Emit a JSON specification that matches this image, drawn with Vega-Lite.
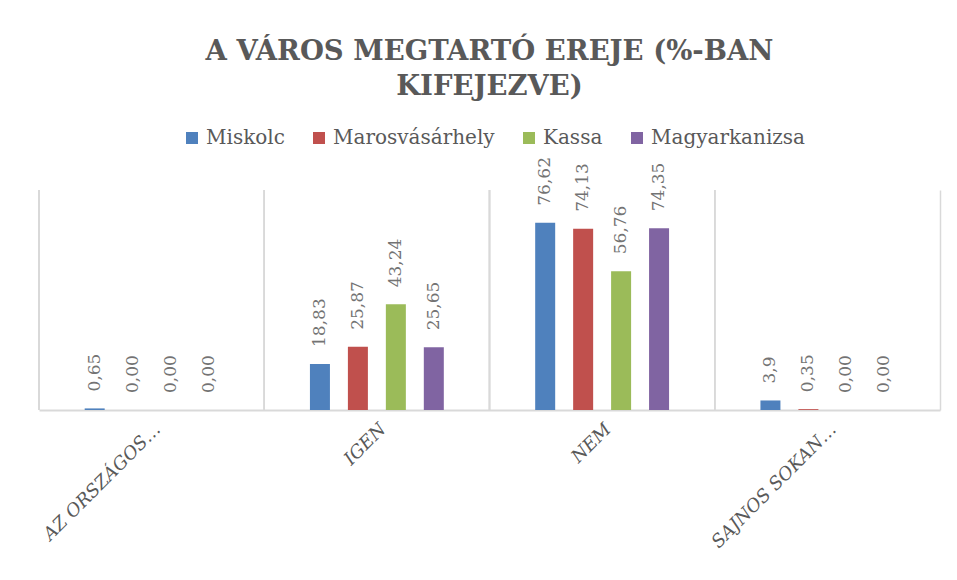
{
  "$schema": "https://vega.github.io/schema/vega-lite/v6.json",
  "width": 901,
  "height": 220,
  "autosize": {"type": "none"},
  "padding": {"left": 39, "top": 190, "right": 17, "bottom": 170},
  "background": "white",
  "config": {"view": {"stroke": null}, "font": "DejaVu Serif"},
  "title": {
    "text": ["A VÁROS MEGTARTÓ EREJE (%-BAN", "KIFEJEZVE)"],
    "anchor": "middle",
    "frame": "group",
    "font": "DejaVu Serif",
    "fontSize": 27.5,
    "fontWeight": "bold",
    "color": "#595959",
    "lineHeight": 35,
    "offset": 28
  },
  "data": {
    "values": [
      {"cat": "AZ ORSZÁGOS…", "city": "Miskolc", "value": 0.65, "label": "0,65"},
      {"cat": "AZ ORSZÁGOS…", "city": "Marosvásárhely", "value": 0, "label": "0,00"},
      {"cat": "AZ ORSZÁGOS…", "city": "Kassa", "value": 0, "label": "0,00"},
      {"cat": "AZ ORSZÁGOS…", "city": "Magyarkanizsa", "value": 0, "label": "0,00"},
      {"cat": "IGEN", "city": "Miskolc", "value": 18.83, "label": "18,83"},
      {"cat": "IGEN", "city": "Marosvásárhely", "value": 25.87, "label": "25,87"},
      {"cat": "IGEN", "city": "Kassa", "value": 43.24, "label": "43,24"},
      {"cat": "IGEN", "city": "Magyarkanizsa", "value": 25.65, "label": "25,65"},
      {"cat": "NEM", "city": "Miskolc", "value": 76.62, "label": "76,62"},
      {"cat": "NEM", "city": "Marosvásárhely", "value": 74.13, "label": "74,13"},
      {"cat": "NEM", "city": "Kassa", "value": 56.76, "label": "56,76"},
      {"cat": "NEM", "city": "Magyarkanizsa", "value": 74.35, "label": "74,35"},
      {"cat": "SAJNOS SOKAN…", "city": "Miskolc", "value": 3.9, "label": "3,9"},
      {"cat": "SAJNOS SOKAN…", "city": "Marosvásárhely", "value": 0.35, "label": "0,35"},
      {"cat": "SAJNOS SOKAN…", "city": "Kassa", "value": 0, "label": "0,00"},
      {"cat": "SAJNOS SOKAN…", "city": "Magyarkanizsa", "value": 0, "label": "0,00"}
    ]
  },
  "layer": [
    {
      "mark": {"type": "rule", "color": "#d9d9d9", "strokeWidth": 1.5},
      "encoding": {
        "x": {"field": "cat", "type": "nominal", "bandPosition": 0,
              "scale": {"domain": ["AZ ORSZÁGOS…", "IGEN", "NEM", "SAJNOS SOKAN…"], "paddingInner": 0, "paddingOuter": 0},
              "axis": {"title": null, "labelAngle": -45, "labelFont": "DejaVu Serif", "labelFontStyle": "italic",
                       "labelFontSize": 18, "labelColor": "#595959", "ticks": false, "grid": false,
                       "domainColor": "#d9d9d9", "domainWidth": 2, "labelPadding": 10, "labelLimit": 300}}
      }
    },
    {
      "mark": {"type": "bar", "width": 20},
      "encoding": {
        "x": {"field": "cat", "type": "nominal",
              "scale": {"domain": ["AZ ORSZÁGOS…", "IGEN", "NEM", "SAJNOS SOKAN…"], "paddingInner": 0, "paddingOuter": 0},
              "axis": {"title": null, "labelAngle": -45, "labelFont": "DejaVu Serif", "labelFontStyle": "italic",
                       "labelFontSize": 18, "labelColor": "#595959", "ticks": false, "grid": false,
                       "domainColor": "#d9d9d9", "domainWidth": 2, "labelPadding": 10, "labelLimit": 300}},
        "xOffset": {"field": "city", "type": "nominal",
                    "scale": {"domain": ["Miskolc", "Marosvásárhely", "Kassa", "Magyarkanizsa"], "paddingInner": 0.066, "paddingOuter": 1.0}},
        "y": {"field": "value", "type": "quantitative", "scale": {"domain": [0, 90], "nice": false},
              "axis": {"orient": "right", "labels": false, "ticks": false, "grid": false, "title": null,
                       "domainColor": "#d9d9d9", "domainWidth": 1.5}},
        "color": {"field": "city", "type": "nominal",
                  "scale": {"domain": ["Miskolc", "Marosvásárhely", "Kassa", "Magyarkanizsa"],
                            "range": ["#4F81BD", "#C0504D", "#9BBB59", "#8064A2"]},
                  "legend": {"title": null, "orient": "none", "legendX": 143, "legendY": -62, "direction": "horizontal",
                             "symbolType": "square", "symbolSize": 144, "symbolStrokeWidth": 0,
                             "labelFont": "DejaVu Serif", "labelFontSize": 20, "labelColor": "#595959",
                             "labelOffset": 4, "columnPadding": 24, "labelLimit": 300}}
      }
    },
    {
      "mark": {"type": "text", "angle": 270, "align": "left", "baseline": "middle", "dx": 17,
               "font": "DejaVu Serif", "fontSize": 17, "color": "#737373"},
      "encoding": {
        "x": {"field": "cat", "type": "nominal",
              "scale": {"domain": ["AZ ORSZÁGOS…", "IGEN", "NEM", "SAJNOS SOKAN…"], "paddingInner": 0, "paddingOuter": 0},
              "axis": {"title": null, "labelAngle": -45, "labelFont": "DejaVu Serif", "labelFontStyle": "italic",
                       "labelFontSize": 18, "labelColor": "#595959", "ticks": false, "grid": false,
                       "domainColor": "#d9d9d9", "domainWidth": 2, "labelPadding": 10, "labelLimit": 300}},
        "xOffset": {"field": "city", "type": "nominal",
                    "scale": {"domain": ["Miskolc", "Marosvásárhely", "Kassa", "Magyarkanizsa"], "paddingInner": 0.066, "paddingOuter": 1.0}},
        "y": {"field": "value", "type": "quantitative", "scale": {"domain": [0, 90], "nice": false},
              "axis": {"orient": "right", "labels": false, "ticks": false, "grid": false, "title": null,
                       "domainColor": "#d9d9d9", "domainWidth": 1.5}},
        "text": {"field": "label"}
      }
    }
  ]
}
